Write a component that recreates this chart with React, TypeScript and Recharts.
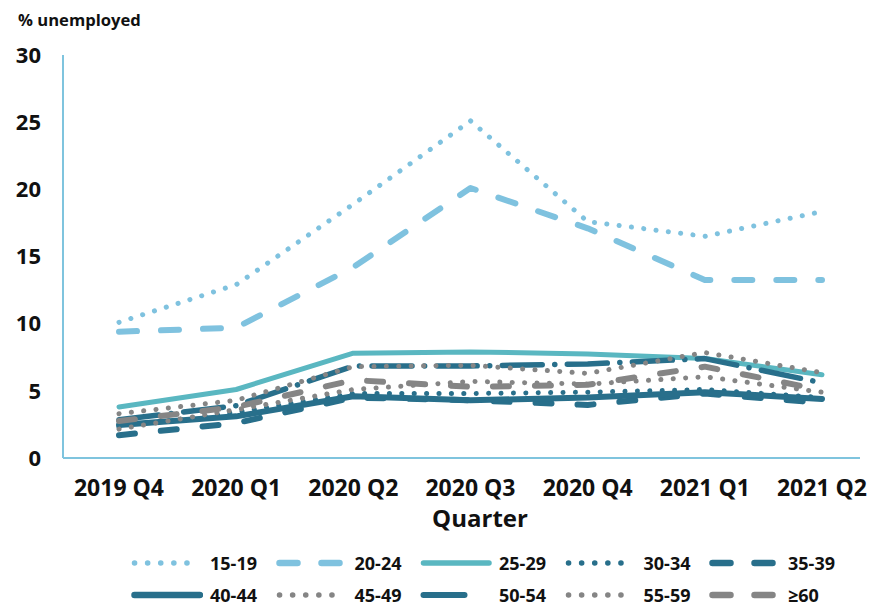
import React from 'react';
import { LineChart, Line, XAxis, YAxis } from 'recharts';

const quarters = ['2019 Q4', '2020 Q1', '2020 Q2', '2020 Q3', '2020 Q4', '2021 Q1', '2021 Q2'];
const yTicks = [0, 5, 10, 15, 20, 25, 30];

const s15_19 = [10.1, 12.9, 18.9, 25.1, 17.6, 16.5, 18.35];
const s20_24 = [9.4, 9.7, 14.2, 20.1, 17.1, 13.25, 13.25];
const s25_29 = [3.8, 5.1, 7.8, 7.9, 7.75, 7.4, 6.2];
const s30_34 = [2.3, 3.4, 4.8, 4.8, 4.9, 5.1, 4.5];
const s35_39 = [1.7, 2.6, 4.5, 4.3, 3.95, 4.8, 4.1];
const s40_44 = [2.45, 3.1, 4.6, 4.3, 4.5, 4.9, 4.4];
const s45_49 = [2.15, 3.6, 5.1, 5.7, 5.5, 6.05, 4.9];
const s50_54 = [2.85, 3.9, 6.85, 6.85, 7.0, 7.4, 5.6];
const s55_59 = [3.3, 4.3, 6.8, 6.9, 6.3, 7.85, 6.35];
const s60p = [2.75, 3.8, 5.8, 5.3, 5.45, 6.8, 5.05];

const seriesNames = ['15-19', '20-24', '25-29', '30-34', '35-39', '40-44', '45-49', '50-54', '55-59', '≥60'];
const seriesValues = [s15_19, s20_24, s25_29, s30_34, s35_39, s40_44, s45_49, s50_54, s55_59, s60p];

const LIGHT = '#7fc2df';
const TEAL = '#5ab7c1';
const DARK = '#286f8b';
const GRAY = '#858585';

const styles = [
  { color: LIGHT, width: 5, dash: '0.1 12.3', legendDash: '0.1 13' },
  { color: LIGHT, width: 6, dash: '18 24', legendDash: '18 24' },
  { color: TEAL, width: 5, dash: undefined, legendDash: undefined },
  { color: DARK, width: 5, dash: '0.1 12.3', legendDash: '0.1 13' },
  { color: DARK, width: 6, dash: '16 26', legendDash: '18 24' },
  { color: DARK, width: 6, dash: undefined, legendDash: undefined },
  { color: GRAY, width: 5, dash: '0.1 12.3', legendDash: '0.1 13' },
  { color: DARK, width: 5.5, dash: '40 12.5 0.1 12.5', legendDash: '41 25 0.1 30' },
  { color: GRAY, width: 5, dash: '0.1 12.3', legendDash: '0.1 13' },
  { color: GRAY, width: 6, dash: '16 26', legendDash: '18 24' },
];

const data = quarters.map((q, i) => {
  const row: Record<string, any> = { q };
  seriesNames.forEach((n, k) => {
    row[n] = seriesValues[k][i];
  });
  return row;
});

const FONT = '"Open Sans", "DejaVu Sans", sans-serif';
const AXIS = '#7fc4de';

export default function App() {
  return (
    <div style={{ position: 'absolute', left: 0, top: 0, width: 873, height: 607, background: '#fff', fontFamily: FONT }}>
      <LineChart width={873} height={607} data={data} margin={{ top: 55, right: 13, left: 0, bottom: 109 }}>
        <XAxis
          dataKey="q"
          height={40}
          padding={{ left: 56, right: 38 }}
          axisLine={{ stroke: AXIS, strokeWidth: 2 }}
          tickLine={false}
          tickSize={0}
          tickMargin={22}
          interval={0}
          tick={{ fill: '#111', fontSize: 23, fontWeight: 700, fontFamily: FONT }}
        />
        <YAxis
          width={63}
          domain={[0, 30]}
          ticks={yTicks}
          interval={0}
          axisLine={{ stroke: AXIS, strokeWidth: 2 }}
          tickLine={false}
          tickSize={0}
          tickMargin={22}
          tick={{ fill: '#111', fontSize: 22, fontWeight: 700, fontFamily: FONT }}
        />
        {seriesNames.map((n, k) => (
          <Line
            key={n}
            dataKey={n}
            type="linear"
            stroke={styles[k].color}
            strokeWidth={styles[k].width}
            strokeDasharray={styles[k].dash}
            strokeLinecap="round"
            strokeLinejoin="round"
            dot={false}
            activeDot={false}
            isAnimationActive={false}
          />
        ))}
      </LineChart>
      <div style={{ position: 'absolute', left: 18, top: 12, fontSize: 16.6, lineHeight: 1, fontWeight: 700, color: '#111', whiteSpace: 'nowrap' }}>
        % unemployed
      </div>
      <div style={{ position: 'absolute', left: 380, width: 200, top: 506, fontSize: 24, lineHeight: 1, fontWeight: 700, color: '#111', textAlign: 'center' }}>
        Quarter
      </div>
      {seriesNames.map((n, k) => {
        const row = Math.floor(k / 5);
        const col = k % 5;
        const left = 131 + col * 144.5;
        const top = (row === 0 ? 563 : 594.5) - 8;
        const st = styles[k];
        return (
          <div key={n} style={{ position: 'absolute', left, top, height: 16, display: 'flex', alignItems: 'center', whiteSpace: 'nowrap' }}>
            <svg width={72} height={12} style={{ display: 'block' }}>
              <line
                x1={3.5}
                y1={6}
                x2={69}
                y2={6}
                stroke={st.color}
                strokeWidth={st.width + 0.5}
                strokeDasharray={st.legendDash}
                strokeLinecap="round"
              />
            </svg>
            <span style={{ marginLeft: 7, fontSize: 18, lineHeight: '16px', fontWeight: 700, color: '#111' }}>{n}</span>
          </div>
        );
      })}
    </div>
  );
}
